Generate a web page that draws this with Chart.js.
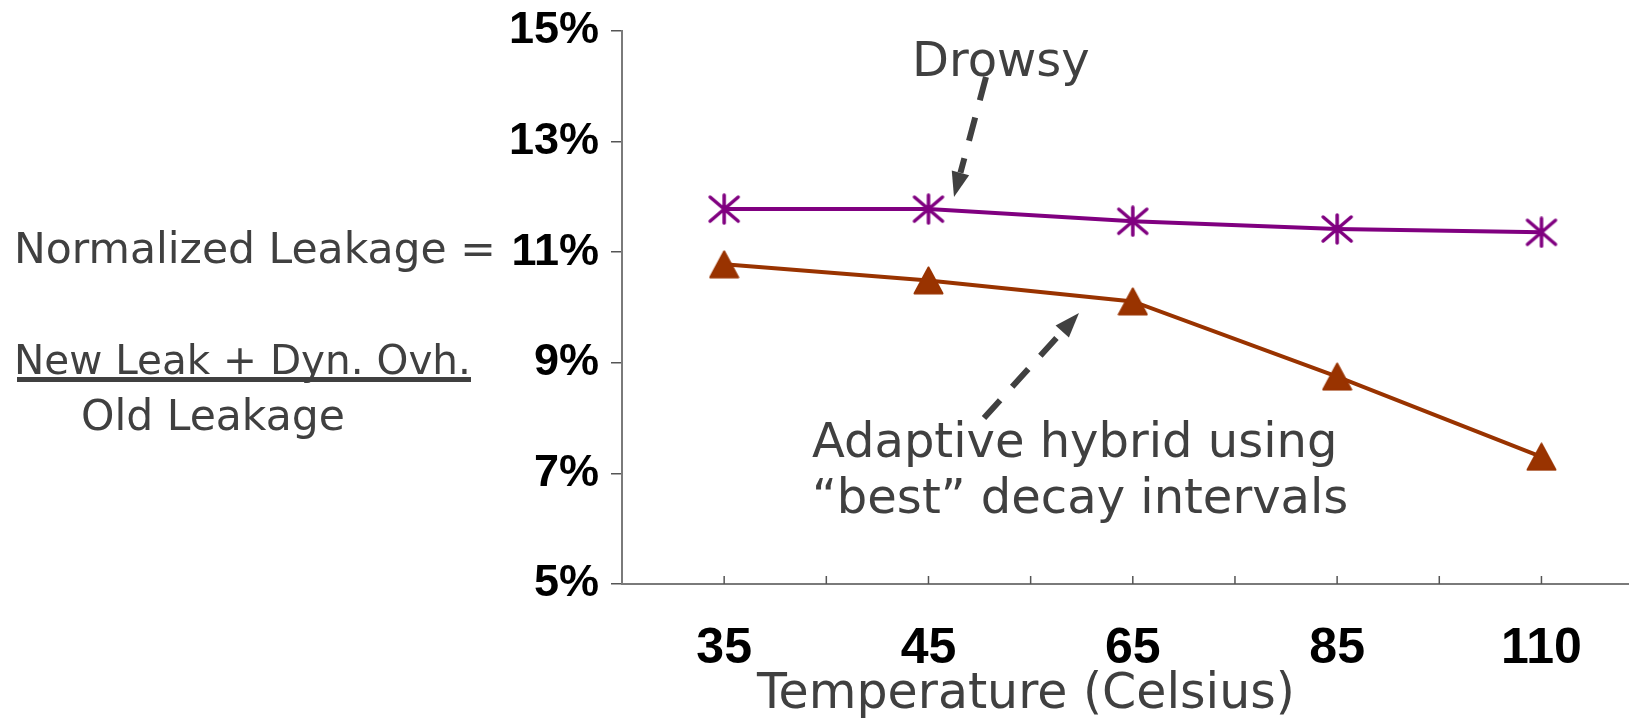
<!DOCTYPE html>
<html>
<head>
<meta charset="utf-8">
<script src="https://cdn.jsdelivr.net/npm/chart.js@4.4.1/dist/chart.umd.min.js"></script>
<style>
    body { margin: 0; background: #fff; overflow: hidden; }
    #wrap { position: relative; width: 1629px; height: 719px; }
    #wrap canvas { position: absolute; left: 0; top: 0; }
    .note {
        position: absolute;
        font-family: 'DejaVu Sans', Verdana, sans-serif;
        color: #404040;
        line-height: 1;
        white-space: nowrap;
    }
</style>
</head>
<body>
<div id="wrap">
    <canvas id="leakChart" width="1629" height="719"></canvas>
    <div class="note" style="left:912px; top:35px; font-size:48px;">Drowsy</div>
    <div class="note" style="left:812px; top:412px; font-size:48px; line-height:56px;">Adaptive hybrid using<br>“best” decay intervals</div>
    <div class="note" style="left:14px; top:228px; font-size:42.5px;">Normalized Leakage =</div>
    <div class="note" style="left:14px; top:340px; font-size:40.5px;">New Leak + Dyn. Ovh.</div>
    <div style="position:absolute; left:17px; top:377px; width:454px; height:5px; background:#404040;"></div>
    <div class="note" style="left:81px; top:395px; font-size:42.5px;">Old Leakage</div>
    <div class="note" style="left:757px; top:667px; font-size:49px;">Temperature (Celsius)</div>
</div>
<script>
// Data
const temps = ['35', '45', '65', '85', '110'];
const drowsy = [11.78, 11.78, 11.56, 11.42, 11.36];
const adaptive = [10.78, 10.49, 10.11, 8.75, 7.30];
const yTicks = [5, 7, 9, 11, 13, 15];

const purple = '#800080';
const rust = '#993300';

// 6-spoke asterisk marker
function makeAsterisk() {
    const c = document.createElement('canvas');
    c.width = 34; c.height = 32;
    const g = c.getContext('2d');
    g.strokeStyle = purple;
    g.lineWidth = 3.5;
    g.lineCap = 'round';
    g.beginPath();
    g.moveTo(17, 2); g.lineTo(17, 30);
    g.moveTo(3, 4); g.lineTo(31, 28);
    g.moveTo(31, 4); g.lineTo(3, 28);
    g.stroke();
    return c;
}

// triangle marker centred on its box
function makeTriangle() {
    const c = document.createElement('canvas');
    c.width = 31; c.height = 29;
    const g = c.getContext('2d');
    g.fillStyle = rust;
    g.strokeStyle = rust;
    g.lineWidth = 2;
    g.lineJoin = 'round';
    g.beginPath();
    g.moveTo(15.5, 1.5);
    g.lineTo(29.5, 27.5);
    g.lineTo(1.5, 27.5);
    g.closePath();
    g.fill();
    g.stroke();
    return c;
}

// x positions: one category every 2 units, small ticks at the boundaries too
const points = vals => vals.map((v, i) => ({ x: 2 * i + 1, y: v }));

// dashed pointer arrows for the annotations
const arrows = [
    { from: [986, 77], to: [954, 197] },
    { from: [984, 418], to: [1079, 313] }
];

function drawArrow(ctx, a) {
    const [x1, y1] = a.from;
    const [x2, y2] = a.to;
    const ang = Math.atan2(y2 - y1, x2 - x1);
    const headLen = 25, headHalf = 9;
    const bx = x2 - headLen * Math.cos(ang);
    const by = y2 - headLen * Math.sin(ang);
    ctx.strokeStyle = '#404040';
    ctx.fillStyle = '#404040';
    ctx.lineWidth = 6;
    ctx.setLineDash([24, 18]);
    ctx.beginPath();
    ctx.moveTo(x1, y1);
    ctx.lineTo(bx, by);
    ctx.stroke();
    ctx.setLineDash([]);
    ctx.beginPath();
    ctx.moveTo(x2, y2);
    ctx.lineTo(bx + headHalf * Math.sin(ang), by - headHalf * Math.cos(ang));
    ctx.lineTo(bx - headHalf * Math.sin(ang), by + headHalf * Math.cos(ang));
    ctx.closePath();
    ctx.fill();
}

const decor = {
    id: 'decor',
    beforeDatasetsDraw(chart) {
        const ctx = chart.ctx;
        const xs = chart.scales.x;
        const bottom = chart.chartArea.bottom;
        ctx.save();
        ctx.strokeStyle = '#555';
        ctx.lineWidth = 1.5;
        for (let v = 1; v < 2 * temps.length; v++) {
            const px = xs.getPixelForValue(v);
            ctx.beginPath();
            ctx.moveTo(px, bottom);
            ctx.lineTo(px, bottom - 8);
            ctx.stroke();
        }
        ctx.restore();
    },
    afterDraw(chart) {
        const ctx = chart.ctx;
        ctx.save();
        arrows.forEach(a => drawArrow(ctx, a));
        ctx.restore();
    }
};

const noPad = s => {
    s.paddingTop = 0;
    s.paddingBottom = 0;
    s.paddingLeft = 0;
    s.paddingRight = 0;
};

new Chart(document.getElementById('leakChart').getContext('2d'), {
    type: 'line',
    data: {
        datasets: [
            {
                label: 'Drowsy',
                data: points(drowsy),
                borderColor: purple,
                borderWidth: 4,
                pointStyle: makeAsterisk(),
                pointRadius: 15,
                tension: 0
            },
            {
                label: 'Adaptive hybrid',
                data: points(adaptive),
                borderColor: rust,
                borderWidth: 4,
                pointStyle: makeTriangle(),
                pointRadius: 15,
                tension: 0
            }
        ]
    },
    options: {
        responsive: false,
        animation: false,
        layout: { autoPadding: false, padding: { top: 31, left: 0, right: 0, bottom: 0 } },
        plugins: {
            legend: { display: false },
            tooltip: { enabled: false }
        },
        scales: {
            x: {
                type: 'linear',
                min: 0,
                max: 9.857,
                afterBuildTicks: s => { s.ticks = temps.map((t, i) => ({ value: 2 * i + 1 })); },
                afterFit: s => { s.height = 135; noPad(s); },
                grid: { display: false, drawTicks: false },
                border: { display: true, color: '#7a7a7a', width: 2 },
                ticks: {
                    callback: v => temps[(v - 1) / 2],
                    font: { family: 'Liberation Sans', weight: 'bold', size: 50 },
                    color: '#000',
                    padding: 35,
                    maxRotation: 0,
                    autoSkip: false
                }
            },
            y: {
                min: 5,
                max: 15,
                afterBuildTicks: s => { s.ticks = yTicks.map(v => ({ value: v })); },
                afterFit: s => { s.width = 622; noPad(s); },
                grid: { display: true, drawOnChartArea: false, drawTicks: true, tickLength: 11, color: '#555', lineWidth: 1.5 },
                border: { display: true, color: '#7a7a7a', width: 2 },
                ticks: {
                    callback: v => v + '%',
                    font: { family: 'Liberation Sans', weight: 'bold', size: 45 },
                    color: '#000',
                    padding: 12
                }
            }
        }
    },
    plugins: [decor]
});
</script>
</body>
</html>
